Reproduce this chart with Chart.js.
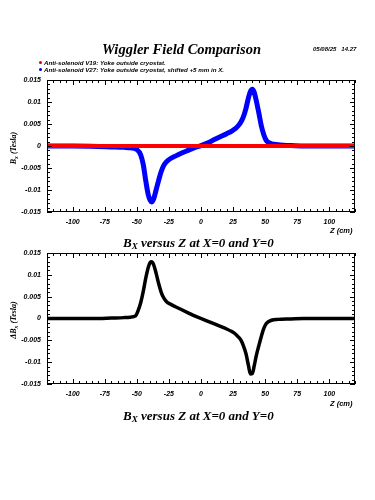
<!DOCTYPE html>
<html>
<head>
<meta charset="utf-8">
<script src="https://cdn.jsdelivr.net/npm/chart.js@4.4.1/dist/chart.umd.min.js"></script>
<style>
    body { margin: 0; width: 375px; height: 500px; background: #fff; position: relative; overflow: hidden;
           font-family: "Liberation Serif", serif; font-style: italic; font-weight: bold; color: #000; }
    canvas { position: absolute; left: 0; }
    #topChart { top: 0; }
    #bottomChart { top: 240px; }
    .txt { position: absolute; white-space: nowrap; line-height: 1; }
    .sans { font-family: "Liberation Sans", sans-serif; }
    .dot { position: absolute; width: 3px; height: 3px; border-radius: 50%; }
    .ytitle { position: absolute; white-space: nowrap; line-height: 1; font-size: 8px; transform: translate(-50%, -50%) rotate(-90deg); }
    sub { font-size: 70%; vertical-align: -2px; }
</style>
</head>
<body>
<canvas id="topChart" width="375" height="240"></canvas>
<canvas id="bottomChart" width="375" height="260"></canvas>

<div class="txt" style="left:102px; top:42px; font-size:14.5px;">Wiggler Field Comparison</div>
<div class="txt sans" style="left:313px; top:46px; font-size:6px;">05/08/25 &nbsp; 14.27</div>
<div class="dot" style="left:39px; top:61px; background:#e00000;"></div>
<div class="txt sans" style="left:44px; top:59.5px; font-size:6.2px;">Anti-solenoid V19: Yoke outside cryostat.</div>
<div class="dot" style="left:39px; top:68px; background:#0000e0;"></div>
<div class="txt sans" style="left:44px; top:66.5px; font-size:6.2px;">Anti-solenoid V27: Yoke outside cryostat, shifted +5 mm in X.</div>

<div class="ytitle" style="left:15px; top:148px;">B<sub>x</sub> (Tesla)</div>
<div class="ytitle" style="left:15px; top:320px;">&Delta;B<sub>x</sub> (Tesla)</div>

<div class="txt sans" style="left:330px; top:227px; font-size:7.5px;">Z (cm)</div>
<div class="txt" style="left:123px; top:235.5px; font-size:13px;">B<sub>X</sub> versus Z at X=0 and Y=0</div>
<div class="txt sans" style="left:330px; top:400px; font-size:7.5px;">Z (cm)</div>
<div class="txt" style="left:123px; top:408.5px; font-size:13px;">B<sub>X</sub> versus Z at X=0 and Y=0</div>

<script>
// tick positions and labels
const xTicks = [-100, -75, -50, -25, 0, 25, 50, 75, 100];
const yTicks = [-0.015, -0.01, -0.005, 0, 0.005, 0.01, 0.015];
const yTickLabels = ["-0.015", "-0.01", "-0.005", "0", "0.005", "0.01", "0.015"];

// V19 (red), flat at zero
const zV19 = [-120, -80, -40, 0, 40, 80, 120];
const bxV19 = [0, 0, 0, 0, 0, 0, 0];

// V27 shifted (blue)
const zV27 = [-120, -100, -80, -70, -60, -55, -50, -47, -45, -43,
              -41, -39.5, -38.5, -37, -35, -33, -31, -29, -27, -24,
              -20, -15, -10, -5, 0, 5, 10, 15, 20, 24,
              27, 29, 31, 33, 35, 37, 38.5, 40, 41.5, 43,
              45, 47, 49, 51, 55, 60, 70, 80, 100, 120];
const bxV27 = [0, 0, -0.0001, -0.0002, -0.0003, -0.0004, -0.0008, -0.0020, -0.0042, -0.0080,
               -0.0112, -0.0124, -0.0127, -0.0121, -0.0100, -0.0078, -0.0058, -0.0044, -0.0036, -0.0029,
               -0.0023, -0.0016, -0.0010, -0.0004, 0.0001, 0.0007, 0.0014, 0.0021, 0.0028, 0.0034,
               0.0040, 0.0046, 0.0054, 0.0066, 0.0085, 0.0110, 0.0124, 0.0129, 0.0122, 0.0104,
               0.0076, 0.0046, 0.0025, 0.0012, 0.0005, 0.0003, 0.0001, 0, 0, 0];

// difference (black)
const zDelta = [-120, -100, -80, -70, -60, -55, -51, -49, -47, -45,
                -43, -41, -39.5, -38.5, -37, -35, -33, -31, -29, -27,
                -24, -20, -15, -10, -5, 0, 5, 10, 15, 20,
                24, 27, 29, 31, 33, 35, 37, 38.5, 40, 41.5,
                43, 45, 47, 49, 51, 55, 60, 70, 80, 100, 120];
const deltaBx = [0, 0, 0, 0.0001, 0.0002, 0.0003, 0.0006, 0.0018, 0.0036, 0.0062,
                 0.0093, 0.0118, 0.0129, 0.0130, 0.0124, 0.0104, 0.0080, 0.0060, 0.0047, 0.0039,
                 0.0033, 0.0027, 0.0020, 0.0013, 0.0006, 0, -0.0006, -0.0012, -0.0018, -0.0024,
                 -0.0030, -0.0036, -0.0042, -0.0049, -0.0062, -0.0080, -0.0108, -0.0127, -0.0126, -0.0108,
                 -0.0086, -0.0063, -0.0041, -0.0022, -0.0011, -0.0004, -0.0002, -0.0001, 0, 0, 0];

const toPoints = (xs, ys) => xs.map((x, i) => ({ x, y: ys[i] }));
const tickFont = { family: "Liberation Sans", size: 7, style: "italic", weight: "bold" };

// box with inward major/minor ticks on all four sides
const frameTicks = {
    id: "frameTicks",
    afterDraw(chart) {
        const { ctx, chartArea: a, scales: { x, y } } = chart;
        ctx.save();
        ctx.strokeStyle = "#000";
        ctx.lineWidth = 1;
        ctx.strokeRect(a.left + 0.5, a.top + 0.5, a.right - a.left - 1, a.bottom - a.top - 1);
        ctx.beginPath();
        for (let v = -120; v <= 120; v += 5) {
            const px = Math.round(x.getPixelForValue(v)) + 0.5;
            const len = v % 25 === 0 ? 5 : 3;
            ctx.moveTo(px, a.bottom); ctx.lineTo(px, a.bottom - len);
            ctx.moveTo(px, a.top); ctx.lineTo(px, a.top + len);
        }
        for (let m = -15; m <= 15; m++) {
            const py = Math.round(y.getPixelForValue(m / 1000)) + 0.5;
            const len = m % 5 === 0 ? 5 : 3;
            ctx.moveTo(a.left, py); ctx.lineTo(a.left + len, py);
            ctx.moveTo(a.right, py); ctx.lineTo(a.right - len, py);
        }
        ctx.stroke();
        ctx.restore();
    }
};

function makeChart(id, datasets, padTop, xAxisHeight) {
    return new Chart(document.getElementById(id), {
        type: "scatter",
        data: { datasets },
        options: {
            responsive: false,
            animation: false,
            layout: { padding: { top: padTop, right: 20, left: 0, bottom: 0 } },
            plugins: { legend: { display: false }, tooltip: { enabled: false } },
            elements: { point: { radius: 0 } },
            scales: {
                x: {
                    type: "linear", min: -120, max: 120,
                    grid: { display: false, drawTicks: false },
                    border: { display: false },
                    afterBuildTicks: s => { s.ticks = xTicks.map(value => ({ value })); },
                    afterFit: s => { s.height = xAxisHeight; },
                    ticks: { font: tickFont, color: "#000", padding: 6, maxRotation: 0, autoSkip: false }
                },
                y: {
                    type: "linear", min: -0.015, max: 0.015,
                    grid: { display: false, drawTicks: false },
                    border: { display: false },
                    afterBuildTicks: s => { s.ticks = yTicks.map(value => ({ value })); },
                    afterFit: s => { s.width = 47; },
                    ticks: {
                        font: tickFont, color: "#000", padding: 6, autoSkip: false,
                        callback: (value, index) => yTickLabels[index]
                    }
                }
            }
        },
        plugins: [frameTicks]
    });
}

makeChart("topChart", [
    {
        label: "Anti-solenoid V19: Yoke outside cryostat.",
        data: toPoints(zV19, bxV19),
        showLine: true, borderColor: "#ff0000", borderWidth: 4, order: 0
    },
    {
        label: "Anti-solenoid V27: Yoke outside cryostat, shifted +5 mm in X.",
        data: toPoints(zV27, bxV27),
        showLine: true, borderColor: "#0000ff", borderWidth: 5,
        cubicInterpolationMode: "monotone", order: 1
    }
], 80, 28);

makeChart("bottomChart", [
    {
        label: "Delta Bx",
        data: toPoints(zDelta, deltaBx),
        showLine: true, borderColor: "#000", borderWidth: 3.5,
        cubicInterpolationMode: "monotone"
    }
], 13, 116);
</script>
</body>
</html>
